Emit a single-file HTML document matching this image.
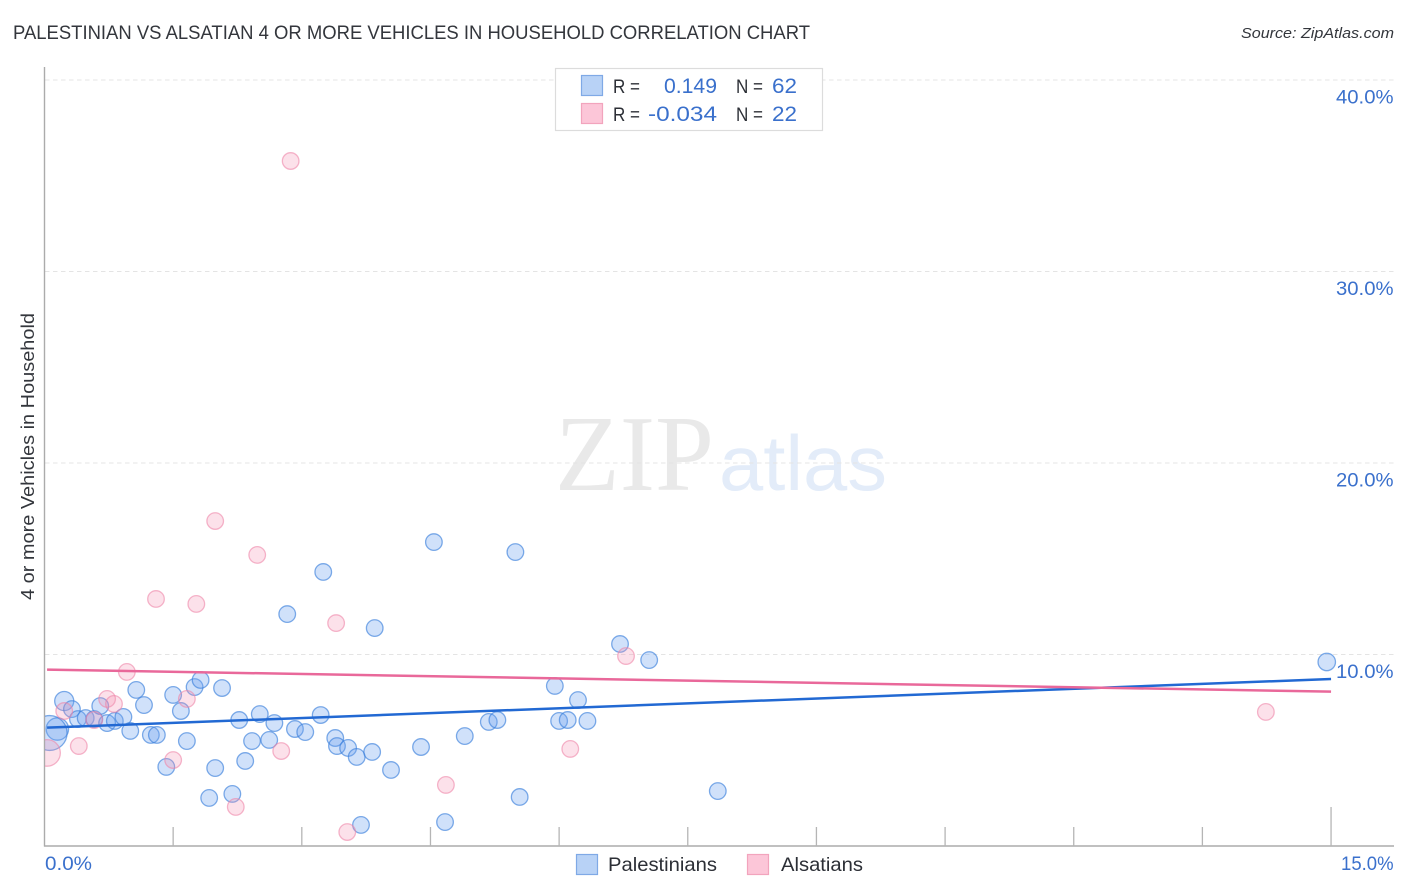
<!DOCTYPE html>
<html lang="en">
<head>
<meta charset="utf-8">
<title>Palestinian vs Alsatian 4 or More Vehicles in Household Correlation Chart</title>
<style>
html,body{margin:0;padding:0;background:#fff;width:1406px;height:892px;overflow:hidden}
svg{display:block;font-family:"Liberation Sans",sans-serif}
</style>
</head>
<body>
<svg id="chart" xmlns="http://www.w3.org/2000/svg" width="1406" height="892" viewBox="0 0 1406 892">
  <defs><clipPath id="plot-clip"><rect x="45" y="60" width="1349" height="786"/></clipPath></defs>
  <rect width="1406" height="892" fill="#fff"/>
  <text x="13" y="39" font-size="19.5" fill="#33363c" textLength="797" lengthAdjust="spacingAndGlyphs">PALESTINIAN VS ALSATIAN 4 OR MORE VEHICLES IN HOUSEHOLD CORRELATION CHART</text>
  <text x="1241" y="38" font-size="15" font-style="italic" fill="#33363c" textLength="153" lengthAdjust="spacingAndGlyphs">Source: ZipAtlas.com</text>
  <g>
    <text x="555" y="490" font-family="'Liberation Serif',serif" font-size="108" fill="#e9e9e9" textLength="159" lengthAdjust="spacingAndGlyphs">ZIP</text>
    <text x="719" y="490" font-size="78" fill="#e3ecf9" textLength="168" lengthAdjust="spacingAndGlyphs">atlas</text>
  </g>
  <g id="grid"></g>
  <g id="axes"></g>
  <g id="pal-points" clip-path="url(#plot-clip)"></g>
  <g id="als-points" clip-path="url(#plot-clip)"></g>
  <g id="trends"></g>
  <g id="tick-labels"></g>
  <text transform="translate(34,600) rotate(-90)" x="0" y="0" font-size="18.5" fill="#33363c" textLength="287" lengthAdjust="spacingAndGlyphs">4 or more Vehicles in Household</text>

  <g>
    <rect x="555.5" y="68.5" width="267" height="62" fill="#fff" stroke="#dcdcdc" stroke-width="1.2"/>
    <rect x="581.5" y="75.5" width="21" height="20" fill="#b8d2f6" stroke="#7fa9e6" stroke-width="1.2"/>
    <rect x="581.5" y="103.5" width="21" height="20" fill="#fcc6d8" stroke="#f2a4bd" stroke-width="1.2"/>
    <text x="613" y="93" font-size="19.5" fill="#2c2f36" textLength="27" lengthAdjust="spacingAndGlyphs">R =</text>
    <text x="664" y="93" font-size="21" fill="#3a70cc" textLength="53" lengthAdjust="spacingAndGlyphs">0.149</text>
    <text x="736" y="93" font-size="19.5" fill="#2c2f36" textLength="27" lengthAdjust="spacingAndGlyphs">N =</text>
    <text x="772" y="93" font-size="21" fill="#3a70cc" textLength="25" lengthAdjust="spacingAndGlyphs">62</text>
    <text x="613" y="121" font-size="19.5" fill="#2c2f36" textLength="27" lengthAdjust="spacingAndGlyphs">R =</text>
    <text x="648" y="121" font-size="21.5" fill="#3a70cc" textLength="69" lengthAdjust="spacingAndGlyphs">-0.034</text>
    <text x="736" y="121" font-size="19.5" fill="#2c2f36" textLength="27" lengthAdjust="spacingAndGlyphs">N =</text>
    <text x="772" y="121" font-size="21" fill="#3a70cc" textLength="25" lengthAdjust="spacingAndGlyphs">22</text>
  </g>

  <g>
    <rect x="576.5" y="854.5" width="21" height="20" fill="#b8d2f6" stroke="#7fa9e6" stroke-width="1.2"/>
    <text x="608" y="871" font-size="19.5" fill="#2c2f36" textLength="109" lengthAdjust="spacingAndGlyphs">Palestinians</text>
    <rect x="747.5" y="854.5" width="21" height="20" fill="#fcc6d8" stroke="#f2a4bd" stroke-width="1.2"/>
    <text x="781" y="871" font-size="19.5" fill="#2c2f36" textLength="82" lengthAdjust="spacingAndGlyphs">Alsatians</text>
  </g>
</svg>
<script>
var palestinianX = [0.23,0.32,0.39,0.48,0.58,0.73,0.65,0.82,0.92,1.00,1.07,1.16,1.24,1.31,1.50,1.59,1.66,1.42,1.75,1.82,2.07,1.99,1.92,2.19,2.27,2.51,2.68,2.42,2.62,2.34,2.92,3.04,3.22,3.39,3.41,3.54,3.64,3.82,3.69,4.04,4.39,4.90,5.18,5.28,4.67,5.54,5.95,6.22,6.00,6.10,6.33,6.71,7.05,7.85,14.95,4.54,5.49,3.25,2.83,3.85,0.15,0.06];
var palestinianY = [7.57,7.15,6.63,6.68,6.63,6.42,7.31,6.53,6.74,6.01,8.15,7.36,5.80,5.80,7.89,7.05,5.48,4.13,8.30,8.67,8.25,4.07,2.51,2.72,6.58,6.89,6.42,5.48,5.54,4.44,6.11,5.95,6.84,5.64,5.22,5.12,4.65,4.91,1.10,3.97,5.17,5.74,6.48,6.58,1.25,2.56,8.36,7.62,6.53,6.58,6.53,10.55,9.71,2.87,9.61,15.87,15.35,14.31,12.11,11.38,6.11,5.90];
var palestinianWeight = [1.15,1,1,1,1,1,1,1,1,1,1,1,1,1,1,1,1,1,1,1,1,1,1,1,1,1,1,1,1,1,1,1,1,1,1,1,1,1,1,1,1,1,1,1,1,1,1,1,1,1,1,1,1,1,1.05,1,1,1,1,1,1.35,2.1];
var alsatianX = [0.96,0.23,0.73,0.81,0.58,0.40,1.66,1.50,2.23,2.76,3.53,0.03,2.87,1.99,2.48,1.30,1.77,3.40,4.68,6.13,6.78,14.24];
var alsatianY = [9.09,7.05,7.68,7.42,6.58,5.22,7.68,4.49,2.04,4.96,0.73,4.86,35.77,16.97,15.20,12.90,12.64,11.64,3.19,5.07,9.92,7.00];
var alsatianWeight = [1,1,1,1,1,1,1,1,1,1,1,1.6,1,1,1,1,1,1,1,1,1,1];
var palestinianTrend = [6.18,8.72];
var alsatianTrend = [9.21,8.06];
var trendX = [0.03,15];
var yTickValues = [10,20,30,40];
var yTickLabels = ["10.0%","20.0%","30.0%","40.0%"];
var xTickValues = [0,1.5,3,4.5,6,7.5,9,10.5,12,13.5,15];
var xEndLabels = ["0.0%","15.0%"];
var xEndValues = [0,15];

var NS = 'http://www.w3.org/2000/svg';
function xScale(v){ return 44.5 + v * 85.77; }
function yScale(v){ return 846 - v * 19.15; }
function mk(parent, tag, attrs){
  var el = document.createElementNS(NS, tag);
  for (var k in attrs) el.setAttribute(k, attrs[k]);
  parent.appendChild(el);
  return el;
}
var grid = document.getElementById('grid');
var axes = document.getElementById('axes');
var labels = document.getElementById('tick-labels');
var trends = document.getElementById('trends');

yTickValues.forEach(function(v, i){
  var y = yScale(v);
  var line = mk(grid, 'line', {x1:45, x2:1394, y1:y, y2:y, stroke:'#e4e4e4', 'stroke-width':1, 'stroke-dasharray':'4.5 3.5'});
  
  
  var t = mk(labels, 'text', {x:1393.5, y:y + 23.5, 'text-anchor':'end', 'font-size':19.5, fill:'#3a70cc', textLength:57.5, lengthAdjust:'spacingAndGlyphs'});
  t.textContent = yTickLabels[i];
  
  
});

var yAxis = mk(axes, 'line', {x1:44.5, x2:44.5, y1:67, y2:846.5, stroke:'#ababab', 'stroke-width':1.4});


var xAxis = mk(axes, 'line', {x1:44, x2:1394, y1:846, y2:846, stroke:'#ababab', 'stroke-width':1.4});



xTickValues.forEach(function(v, i){
  if (i === 0) return;
  var x = xScale(v);
  var top = i === xTickValues.length - 1 ? 807 : 827;
  var tick = mk(axes, 'line', {x1:x, x2:x, y1:top, y2:846, stroke:'#b5b5b5', 'stroke-width':1.3});
  
  
});

xEndValues.forEach(function(v, i){
  var t = mk(labels, 'text', {x: i === 0 ? xScale(v) + 0.5 : xScale(v) + 62.5, y:870, 'text-anchor': i === 0 ? 'start' : 'end', 'font-size':19.5, fill:'#3a70cc', textLength: i === 0 ? 47 : 52.5, lengthAdjust:'spacingAndGlyphs'});
  t.textContent = xEndLabels[i];
  
  
});

function drawPoints(groupId, xs, ys, ws, fill, stroke, fillOp, strokeOp, name){
  var g = document.getElementById(groupId);
  xs.forEach(function(v, i){
    var c = mk(g, 'circle', {cx:xScale(v), cy:yScale(ys[i]), r:8.3 * ws[i], fill:fill, 'fill-opacity':fillOp, stroke:stroke, 'stroke-opacity':strokeOp, 'stroke-width':1.3});
    
    
  });
}
drawPoints('pal-points', palestinianX, palestinianY, palestinianWeight, '#6ea3ee', '#3a7fdc', 0.32, 0.65, 'palestinian-point');
drawPoints('als-points', alsatianX, alsatianY, alsatianWeight, '#f490b2', '#ee86a8', 0.27, 0.6, 'alsatian-point');

var palLine = mk(trends, 'line', {x1:xScale(trendX[0]), x2:xScale(trendX[1]), y1:yScale(palestinianTrend[0]), y2:yScale(palestinianTrend[1]), stroke:'#2269d3', 'stroke-width':2.5});


var alsLine = mk(trends, 'line', {x1:xScale(trendX[0]), x2:xScale(trendX[1]), y1:yScale(alsatianTrend[0]), y2:yScale(alsatianTrend[1]), stroke:'#e9689a', 'stroke-width':2.5});


</script>
</body>
</html>
